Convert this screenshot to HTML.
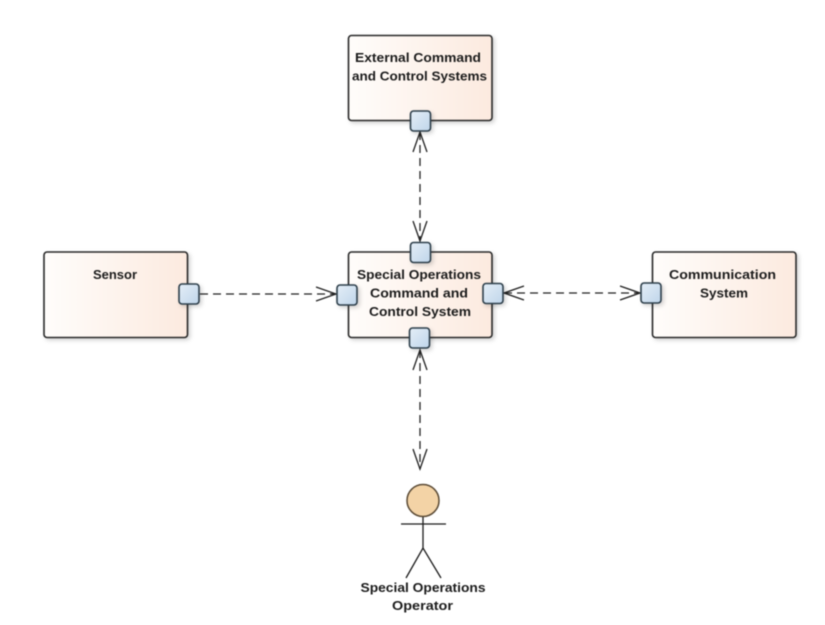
<!DOCTYPE html>
<html><head><meta charset="utf-8">
<style>
html,body{margin:0;padding:0;background:#fff}
svg{display:block;filter:blur(.4px)}
text{font-family:"Liberation Sans",sans-serif;font-weight:bold;font-size:13.2px;fill:#1c1c1c;text-anchor:middle}
</style></head>
<body>
<svg width="825" height="625" viewBox="0 0 825 625" xmlns="http://www.w3.org/2000/svg">
<defs>
<linearGradient id="b" x1="0" y1="0" x2="1" y2="0"><stop offset="0" stop-color="#fffdfb"/><stop offset="1" stop-color="#fceadf"/></linearGradient>
<linearGradient id="p" x1="0" y1="0" x2="1" y2="1"><stop offset="0" stop-color="#e4eef7"/><stop offset="1" stop-color="#bfd5ea"/></linearGradient>
<filter id="s" x="-10%" y="-10%" width="125%" height="125%"><feDropShadow dx="2" dy="2" stdDeviation="2" flood-color="#000" flood-opacity=".18"/></filter>
</defs>
<g fill="url(#b)" stroke="#2b2b2b" stroke-width="1.6" filter="url(#s)">
<rect x="348.500" y="35.500" width="143.500" height="85" rx="3"/>
<rect x="44" y="252" width="143.500" height="85.500" rx="3"/>
<rect x="348.500" y="252" width="143.500" height="85.500" rx="3"/>
<rect x="652.500" y="252" width="143.500" height="85.500" rx="3"/>
</g>
<g fill="none" stroke="#222" stroke-width="1.300" stroke-dasharray="8 5">
<line x1="420" y1="132" x2="420" y2="241"/>
<line x1="200" y1="294" x2="336" y2="294"/>
<line x1="504" y1="293" x2="640" y2="293"/>
<line x1="420" y1="350" x2="420" y2="469"/>
</g>
<g fill="none" stroke="#222" stroke-width="1.300">
<polyline points="413,152 420,132 427,152"/>
<polyline points="413,221 420,241 427,221"/>
<polyline points="316,287 336,294 316,301"/>
<polyline points="524,286 504,293 524,300"/>
<polyline points="620,286 640,293 620,300"/>
<polyline points="413,370 420,350 427,370"/>
<polyline points="413,449 420,469 427,449"/>
</g>
<g fill="url(#p)" stroke="#2f3f4c" stroke-width="1.600" filter="url(#s)">
<rect x="410.500" y="111" width="20" height="20" rx="3"/>
<rect x="410.500" y="242.500" width="20" height="20" rx="3"/>
<rect x="409.500" y="328" width="20" height="20" rx="3"/>
<rect x="337" y="285" width="20" height="20" rx="3"/>
<rect x="483" y="283.500" width="20" height="20" rx="3"/>
<rect x="179" y="284" width="20" height="20" rx="3"/>
<rect x="641" y="283" width="20" height="20" rx="3"/>
</g>
<circle cx="423" cy="500.500" r="16" fill="#f3d3a6" stroke="#5a4a35" stroke-width="1.500"/>
<g stroke="#1c1c1c" stroke-width="1.300" fill="none">
<line x1="423" y1="517" x2="423" y2="548"/>
<line x1="401" y1="524" x2="446" y2="524"/>
<polyline points="406,578 423,548 441,578"/>
</g>
<g lengthAdjust="spacingAndGlyphs">
<text x="418" y="62" textLength="126" lengthAdjust="spacingAndGlyphs">External Command</text>
<text x="419.500" y="80.500" textLength="135" lengthAdjust="spacingAndGlyphs">and Control Systems</text>
<text x="115" y="279" textLength="44" lengthAdjust="spacingAndGlyphs">Sensor</text>
<text x="419" y="279" textLength="124" lengthAdjust="spacingAndGlyphs">Special Operations</text>
<text x="419" y="297.500" textLength="98" lengthAdjust="spacingAndGlyphs">Command and</text>
<text x="420" y="316" textLength="102" lengthAdjust="spacingAndGlyphs">Control System</text>
<text x="722.500" y="279" textLength="107" lengthAdjust="spacingAndGlyphs">Communication</text>
<text x="724" y="297.500" textLength="48" lengthAdjust="spacingAndGlyphs">System</text>
<text x="423" y="592" textLength="125" lengthAdjust="spacingAndGlyphs">Special Operations</text>
<text x="422.500" y="610" textLength="61" lengthAdjust="spacingAndGlyphs">Operator</text>
</g>
</svg>
</body></html>
